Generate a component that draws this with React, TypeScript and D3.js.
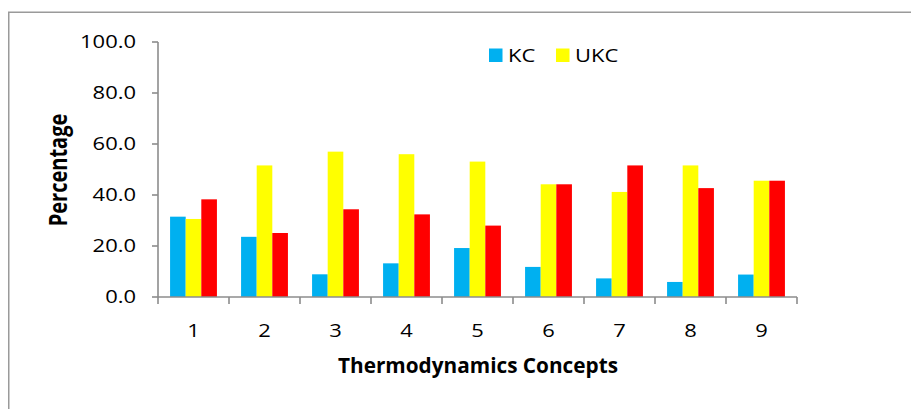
import React from "react";
import * as d3 from "d3";

const categories = ["1", "2", "3", "4", "5", "6", "7", "8", "9"];
const seriesNames = ["KC", "UKC", "Series3"];
const kcValues = [31.5, 23.6, 8.9, 13.2, 19.2, 11.8, 7.3, 5.9, 8.8];
const ukcValues = [30.6, 51.6, 57.0, 56.0, 53.1, 44.2, 41.2, 51.6, 45.6];
const thirdValues = [38.3, 25.1, 34.4, 32.4, 28.0, 44.2, 51.6, 42.7, 45.6];
const yTicks = [0, 20, 40, 60, 80, 100];
const legendNames = ["KC", "UKC"];

const colors = ["#00B0F0", "#FFFF00", "#FF0000"];
const FONT = "'Open Sans', 'Liberation Sans', sans-serif";
const SX = 1.22;

export default function App() {
  const W = 911;
  const H = 409;
  const x0 = 158;
  const x1 = 797;
  const yTop = 42;
  const yBot = 297;

  const x = d3.scaleBand<string>().domain(categories).range([x0, x1]).paddingInner(0).paddingOuter(0);
  const bw = x.bandwidth();
  const inner = d3
    .scaleBand<string>()
    .domain(seriesNames)
    .range([bw * 0.17, bw * 0.83])
    .padding(0);
  const y = d3.scaleLinear().domain([0, 100]).range([yBot, yTop]);
  const series = [kcValues, ukcValues, thirdValues];
  const axisColor = "#8c8c8c";

  return (
    <svg
      width={W}
      height={H}
      style={{ position: "absolute", left: 0, top: 0, background: "#fff" }}
      fontFamily={FONT}
    >
      <rect x={0} y={0} width={W} height={H} fill="#fff" />
      {/* frame */}
      <path d={`M8.75,${H + 5} V12.25 H${W + 5}`} fill="none" stroke="#9a9a9a" strokeWidth={1.5} />

      {/* bars */}
      {categories.map((c, i) => (
        <g key={c}>
          {series.map((vals, s) => (
            <rect
              key={s}
              x={(x(c) as number) + (inner(seriesNames[s]) as number)}
              y={y(vals[i])}
              width={inner.bandwidth()}
              height={yBot - y(vals[i])}
              fill={colors[s]}
            />
          ))}
        </g>
      ))}

      {/* y axis */}
      <line x1={x0} x2={x0} y1={yTop} y2={yBot} stroke={axisColor} strokeWidth={1.6} />
      {yTicks.map((t) => (
        <g key={t}>
          <line x1={x0 - 6} x2={x0} y1={y(t)} y2={y(t)} stroke={axisColor} strokeWidth={1.6} />
          <text
            transform={`translate(136,${y(t)}) scale(${SX},1)`}
            textAnchor="end"
            dy="0.36em"
            fontSize={18}
            fill="#000"
          >
            {t.toFixed(1)}
          </text>
        </g>
      ))}

      {/* x axis */}
      <line x1={x0} x2={x1} y1={yBot} y2={yBot} stroke={axisColor} strokeWidth={1.6} />
      {[...categories.map((c) => x(c) as number), x1].map((px, i) => (
        <line key={i} x1={px} x2={px} y1={yBot} y2={yBot + 7} stroke={axisColor} strokeWidth={1.6} />
      ))}
      {categories.map((c) => (
        <text
          key={c}
          transform={`translate(${(x(c) as number) + bw / 2},337) scale(${SX},1)`}
          textAnchor="middle"
          fontSize={18}
          fill="#000"
        >
          {c}
        </text>
      ))}

      {/* axis titles */}
      <text
        x={478}
        y={373}
        textAnchor="middle"
        fontSize={20.5}
        fontWeight="bold"
        textLength={280}
        lengthAdjust="spacingAndGlyphs"
        fill="#000"
      >
        Thermodynamics Concepts
      </text>
      <text
        transform={`translate(67,170) scale(${SX},1) rotate(-90)`}
        textAnchor="middle"
        fontSize={20}
        fontWeight="bold"
        fill="#000"
      >
        Percentage
      </text>

      {/* legend */}
      {legendNames.map((n, i) => {
        const lx = [489, 556][i];
        return (
          <g key={n}>
            <rect x={lx} y={48.5} width={13.5} height={13.5} fill={colors[i]} />
            <text transform={`translate(${lx + 19},62) scale(${SX},1)`} fontSize={18} fill="#000">
              {n}
            </text>
          </g>
        );
      })}
    </svg>
  );
}
